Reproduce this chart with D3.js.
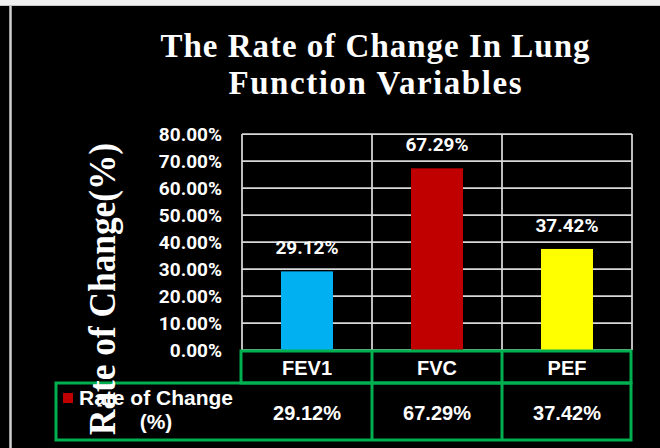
<!DOCTYPE html>
<html>
<head>
<meta charset="utf-8">
<script src="https://cdn.jsdelivr.net/npm/d3@7"></script>
<style>
  body { margin: 0; background: #000; }
  svg { display: block; }
</style>
</head>
<body>
<div id="chart"></div>
<script>
// chart data
const categories = ['FEV1', 'FVC', 'PEF'];
const rateOfChange = [0.2912, 0.6729, 0.3742];
const barColors = ['#00B0F0', '#C00000', '#FFFF00'];
const yTicks = [0, 0.1, 0.2, 0.3, 0.4, 0.5, 0.6, 0.7, 0.8];
const titleLines = ['The Rate of Change In Lung', 'Function Variables'];
const yTitle = 'Rate of Change(%)';
const seriesName = ['Rate of Change', '(%)'];

const width = 660, height = 448;
const plot = {left: 242, right: 632, top: 134, bottom: 350};
const green = '#00B050';
const fmt = d3.format('.2%');
const labelFont = 'Roboto, Lato, sans-serif';

const svg = d3.select('#chart')
  .append('svg')
    .attr('width', width)
    .attr('height', height);

// background + window edge
svg.append('rect').attr('width', width).attr('height', height).attr('fill', '#000');
svg.append('rect').attr('width', width).attr('height', 5).attr('fill', '#f0f0f0');
svg.append('line')
  .attr('x1', 0).attr('x2', width).attr('y1', 5.5).attr('y2', 5.5)
  .attr('stroke', '#c8c8c8').attr('stroke-width', 1);
svg.append('line')
  .attr('x1', 10.5).attr('x2', 10.5).attr('y1', 6).attr('y2', height)
  .attr('stroke', '#d0d0d0').attr('stroke-width', 2.5);

// title
svg.append('text')
  .attr('text-anchor', 'middle')
  .attr('fill', '#fff')
  .style('font-family', '"Liberation Serif", serif')
  .style('font-weight', 'bold')
  .style('font-size', '33px')
  .selectAll('tspan')
  .data(titleLines)
  .join('tspan')
    .attr('x', 375)
    .attr('y', (d, i) => 57 + i * 36.5)
    .attr('textLength', (d, i) => i == 0 ? 429 : 293)
    .attr('lengthAdjust', 'spacing')
    .text(d => d);

// scales
const x = d3.scaleBand()
  .domain(categories)
  .range([plot.left, plot.right])
  .padding(0);

const y = d3.scaleLinear()
  .domain([0, 0.8])
  .range([plot.bottom, plot.top]);

// gridlines
svg.append('g')
  .selectAll('line')
  .data(yTicks)
  .join('line')
    .attr('x1', plot.left).attr('x2', plot.right)
    .attr('y1', d => y(d)).attr('y2', d => y(d))
    .attr('stroke', '#d9d9d9').attr('stroke-width', 1.75);

// vertical lines at category edges
const edges = categories.map(c => x(c)).concat([plot.right]);
svg.append('g')
  .selectAll('line')
  .data(edges)
  .join('line')
    .attr('x1', d => d).attr('x2', d => d)
    .attr('y1', plot.top).attr('y2', plot.bottom)
    .attr('stroke', '#d9d9d9').attr('stroke-width', 1.75);

// y axis labels
const yAxis = svg.append('g')
  .attr('transform', 'translate(' + plot.left + ',0)')
  .call(d3.axisLeft(y).tickValues(yTicks).tickFormat(fmt).tickSize(0).tickPadding(20));
yAxis.select('.domain').remove();
yAxis.selectAll('text')
  .attr('fill', '#fff')
  .style('font-family', labelFont)
  .style('font-weight', 'bold')
  .style('font-size', '19px');

// bars
const barW = x.bandwidth() * 0.4;
svg.append('g')
  .selectAll('rect')
  .data(categories)
  .join('rect')
    .attr('x', d => x(d) + (x.bandwidth() - barW) / 2)
    .attr('y', (d, i) => y(rateOfChange[i]))
    .attr('width', barW)
    .attr('height', (d, i) => y(0) - y(rateOfChange[i]))
    .attr('fill', (d, i) => barColors[i]);

// data labels
svg.append('g')
  .selectAll('text')
  .data(categories)
  .join('text')
    .attr('x', d => x(d) + x.bandwidth() / 2)
    .attr('y', (d, i) => y(rateOfChange[i]) - 17)
    .attr('text-anchor', 'middle')
    .attr('fill', '#fff')
    .style('font-family', labelFont)
    .style('font-weight', 'bold')
    .style('font-size', '19px')
    .text((d, i) => fmt(rateOfChange[i]));

// data table
const tableTop = 351, rowDiv = 383, tableBottom = 440, tableLeft = 56;
const table = svg.append('g')
  .attr('fill', 'none')
  .attr('stroke', green)
  .attr('stroke-width', 3);
table.append('rect')
  .attr('x', plot.left - 1).attr('y', tableTop)
  .attr('width', plot.right - plot.left).attr('height', rowDiv - tableTop);
table.append('rect')
  .attr('x', tableLeft).attr('y', rowDiv)
  .attr('width', plot.right - 1 - tableLeft).attr('height', tableBottom - rowDiv);
table.selectAll('line')
  .data(categories.slice(1))
  .join('line')
    .attr('x1', d => x(d)).attr('x2', d => x(d))
    .attr('y1', tableTop).attr('y2', tableBottom);

const cellText = svg.append('g')
  .attr('fill', '#fff')
  .attr('text-anchor', 'middle')
  .style('font-family', '"Liberation Sans", Arial, sans-serif')
  .style('font-weight', 'bold')
  .style('font-size', '20px');

cellText.selectAll('.head')
  .data(categories)
  .join('text')
    .attr('class', 'head')
    .attr('x', d => x(d) + x.bandwidth() / 2)
    .attr('y', 375)
    .text(d => d);

cellText.selectAll('.val')
  .data(categories)
  .join('text')
    .attr('class', 'val')
    .attr('x', d => x(d) + x.bandwidth() / 2)
    .attr('y', 420)
    .text((d, i) => fmt(rateOfChange[i]));

// legend key in the table
svg.append('rect')
  .attr('x', 63).attr('y', 393)
  .attr('width', 10).attr('height', 10)
  .attr('fill', barColors[1]);

cellText.selectAll('.series')
  .data(seriesName)
  .join('text')
    .attr('class', 'series')
    .attr('x', 156)
    .attr('y', (d, i) => 405 + i * 24)
    .style('font-size', '21px')
    .text(d => d);

// y axis title (drawn last, it overlaps the table)
svg.append('text')
  .attr('transform', 'translate(115,289) rotate(-90)')
  .attr('text-anchor', 'middle')
  .attr('fill', '#fff')
  .attr('textLength', 292)
  .attr('lengthAdjust', 'spacingAndGlyphs')
  .style('font-family', '"Liberation Serif", serif')
  .style('font-weight', 'bold')
  .style('font-size', '38px')
  .text(yTitle);
</script>
</body>
</html>
